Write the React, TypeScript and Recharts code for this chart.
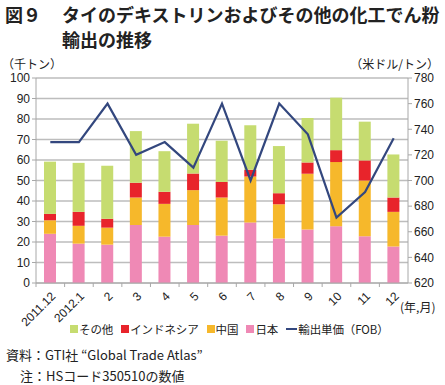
import React from "react";
import {
  ComposedChart,
  Bar,
  Line,
  XAxis,
  YAxis,
  CartesianGrid,
} from "recharts";

const months = ["2011.12", "2012.1", "2", "3", "4", "5", "6", "7", "8", "9", "10", "11", "12"];
const japan = [24, 19.2, 18.7, 28.3, 22.6, 28.3, 23.1, 29.5, 21.7, 26.1, 27.7, 22.8, 17.8];
const china = [6.6, 8.7, 8.3, 13.4, 16, 17, 18.6, 22.5, 16.7, 27.2, 31.3, 27.2, 16.9];
const indonesia = [3.1, 6.8, 4.3, 7.2, 5.9, 8.1, 7.6, 3.2, 5.4, 5.5, 5.8, 9.8, 7];
const other = [25.5, 23.9, 25.9, 25.2, 19.8, 24.3, 20.1, 21.7, 23, 21.7, 25.6, 18.9, 21];
const unitPrice = [730, 730, 760, 720, 730, 710, 760, 700, 760, 736, 671, 691, 733];

const leftTicks = [0, 10, 20, 30, 40, 50, 60, 70, 80, 90, 100];
const rightTicks = [620, 640, 660, 680, 700, 720, 740, 760, 780];

const COLORS = {
  other: "#c6dc70",
  indonesia: "#e8242b",
  china: "#f6b82b",
  japan: "#ef89b5",
  price: "#33477e",
};

const data = months.map((m, i) => ({
  month: m,
  japan: japan[i],
  china: china[i],
  indonesia: indonesia[i],
  other: other[i],
  price: unitPrice[i],
}));

const legendItems = [
  { label: "その他", color: COLORS.other, kind: "box" },
  { label: "インドネシア", color: COLORS.indonesia, kind: "box" },
  { label: "中国", color: COLORS.china, kind: "box" },
  { label: "日本", color: COLORS.japan, kind: "box" },
  { label: "輸出単価（FOB）", color: COLORS.price, kind: "line" },
];

const JP = '"Noto Sans CJK JP", "Noto Sans", sans-serif';
const NUM = '"Liberation Sans", Arial, sans-serif';
const AXIS_GRAY = "#a8a8a8";
const HALF_BAND = 372 / 13 / 2;

function MonthTick(props: any) {
  const { x, y, payload } = props;
  const tx = x + 6;
  const ty = y + 8;
  return (
    <g>
      <line x1={x - HALF_BAND} x2={x - HALF_BAND} y1={y - 6} y2={y - 2} stroke={AXIS_GRAY} />
      <text
        x={tx}
        y={ty}
        textAnchor="end"
        fontSize={12}
        fontFamily={NUM}
        fill="#222"
        transform={`rotate(-45, ${tx}, ${ty})`}
      >
        {payload.value}
      </text>
    </g>
  );
}

export default function App() {
  return (
    <div
      style={{
        position: "absolute",
        left: 0,
        top: 0,
        width: 445,
        height: 385,
        background: "#fff",
        fontFamily: JP,
        color: "#222",
        overflow: "hidden",
      }}
    >
      <div style={{ position: "absolute", left: 5, top: 2, fontSize: 18, fontWeight: 700, lineHeight: "25px" }}>
        図９
      </div>
      <div style={{ position: "absolute", left: 62, top: 2, fontSize: 18, fontWeight: 700, lineHeight: "25px", whiteSpace: "nowrap" }}>
        タイのデキストリンおよびその他の化工でん粉
        <br />
        輸出の推移
      </div>
      <div style={{ position: "absolute", left: 2, top: 55, fontSize: 12 }}>（千トン）</div>
      <div style={{ position: "absolute", right: 6, top: 55, fontSize: 12 }}>（米ドル/トン）</div>

      <ComposedChart
        width={445}
        height={385}
        data={data}
        margin={{ top: 78, right: 0, bottom: 57, left: 0 }}
      >
        <CartesianGrid yAxisId="left" vertical={false} stroke="#bdbdbd" strokeWidth={1.3} />
        <XAxis
          dataKey="month"
          height={45}
          interval={0}
          tickLine={false}
          tickSize={4}
          stroke={AXIS_GRAY}
          tick={<MonthTick />}
        />
        <YAxis
          yAxisId="left"
          width={36}
          domain={[0, 100]}
          ticks={leftTicks}
          interval={0}
          tickSize={4}
          stroke={AXIS_GRAY}
          tick={{ fontSize: 12, fill: "#222", fontFamily: NUM }}
        />
        <YAxis
          yAxisId="right"
          orientation="right"
          width={37}
          domain={[620, 780]}
          ticks={rightTicks}
          interval={0}
          tickSize={4}
          stroke={AXIS_GRAY}
          tick={{ fontSize: 12, fill: "#222", fontFamily: NUM }}
        />
        <Bar yAxisId="left" dataKey="japan" stackId="a" fill={COLORS.japan} barSize={12} isAnimationActive={false} />
        <Bar yAxisId="left" dataKey="china" stackId="a" fill={COLORS.china} barSize={12} isAnimationActive={false} />
        <Bar yAxisId="left" dataKey="indonesia" stackId="a" fill={COLORS.indonesia} barSize={12} isAnimationActive={false} />
        <Bar yAxisId="left" dataKey="other" stackId="a" fill={COLORS.other} barSize={12} isAnimationActive={false} />
        <Line
          yAxisId="right"
          dataKey="price"
          type="linear"
          stroke={COLORS.price}
          strokeWidth={2.2}
          dot={false}
          isAnimationActive={false}
        />
      </ComposedChart>

      <div style={{ position: "absolute", left: 400, top: 298, fontSize: 12, whiteSpace: "nowrap" }}>(年,月)</div>

      <div
        style={{
          position: "absolute",
          left: 70,
          top: 321,
          display: "flex",
          alignItems: "center",
          fontSize: 11.5,
          letterSpacing: -0.1,
          whiteSpace: "nowrap",
        }}
      >
        {legendItems.map((it) => (
          <span key={it.label} style={{ display: "flex", alignItems: "center", marginRight: 8 }}>
            {it.kind === "box" ? (
              <span style={{ display: "inline-block", width: 8, height: 8, background: it.color, marginRight: 1 }} />
            ) : (
              <span style={{ display: "inline-block", width: 11, height: 2, background: it.color, marginRight: 1 }} />
            )}
            {it.label}
          </span>
        ))}
      </div>

      <div style={{ position: "absolute", left: 6, top: 345, fontSize: 13 }}>
        資料：GTI社 “Global Trade Atlas”
      </div>
      <div style={{ position: "absolute", left: 20, top: 366, fontSize: 13 }}>
        注：HSコード350510の数値
      </div>
    </div>
  );
}
